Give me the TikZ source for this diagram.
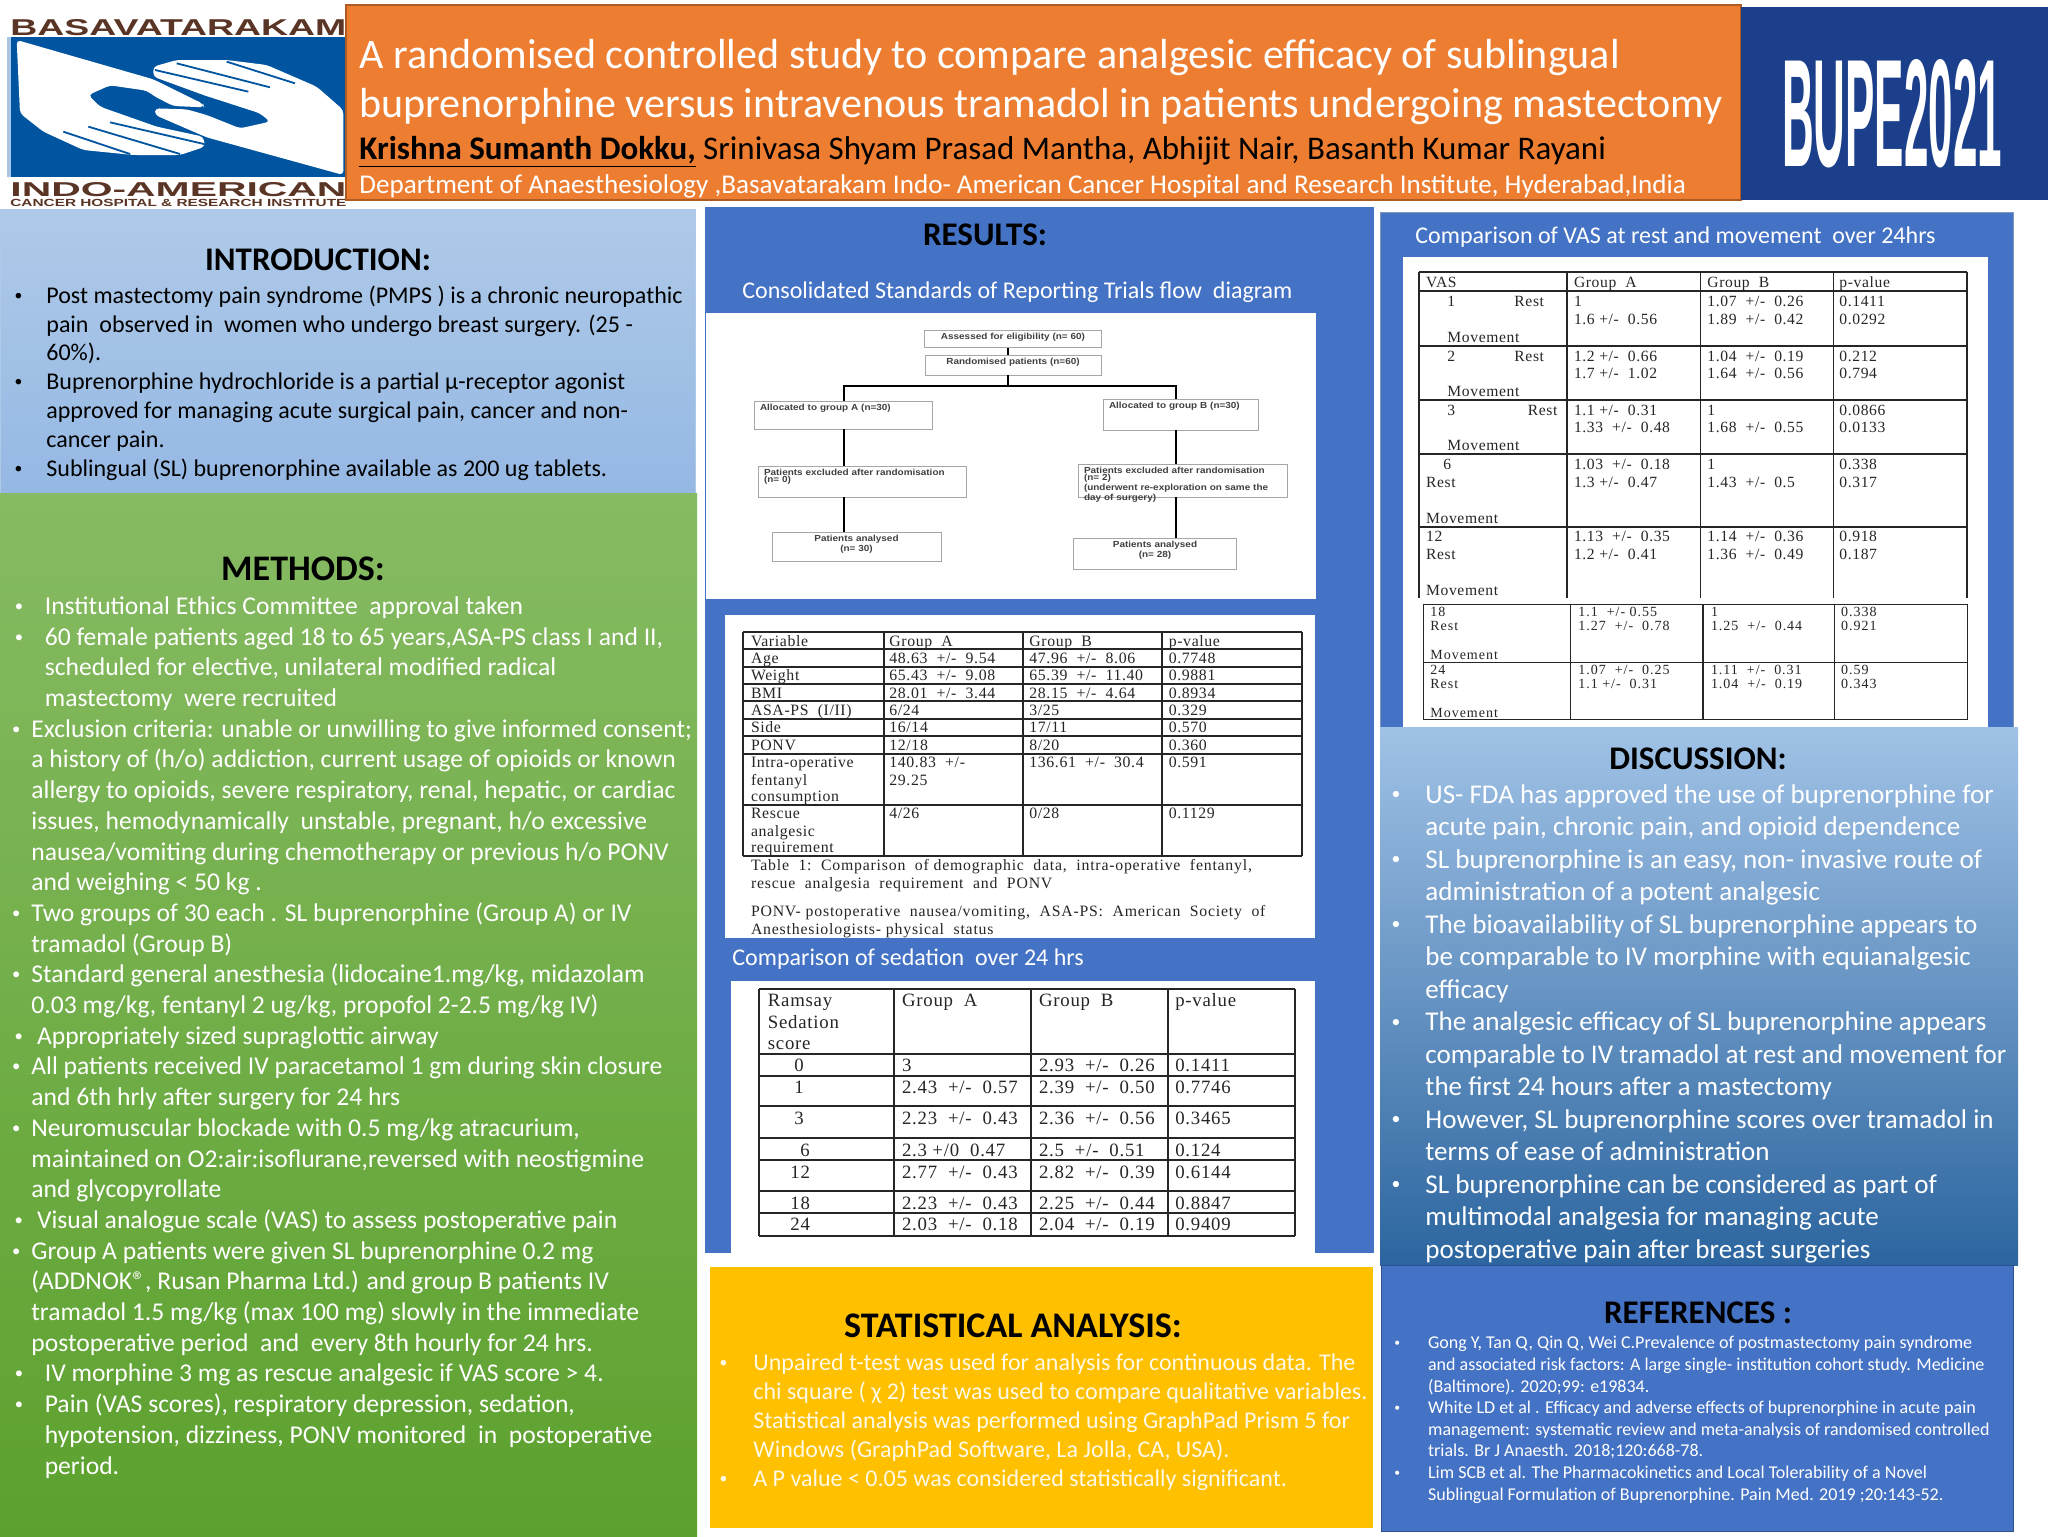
\documentclass[tikz,border=0pt]{standalone}
\usepackage{fontspec}
\usepackage{graphicx}
\usepackage{tikz}
\setmainfont{Carlito}
\newfontfamily\tabfont[LetterSpace=4]{Liberation Serif}
\newfontfamily\tabwide[LetterSpace=7]{Liberation Serif}
\newfontfamily\tabcap[LetterSpace=5]{Liberation Serif}
\newfontfamily\logofont{Liberation Sans}
\newfontfamily\flowfont[FakeStretch=1.13]{Liberation Sans}
\definecolor{orangebar}{HTML}{ED7D31}
\definecolor{orangeedge}{HTML}{AE5A21}
\definecolor{navy}{HTML}{1B3F8B}
\definecolor{panelblue}{HTML}{4472C4}
\definecolor{paneledge}{HTML}{2F528F}
\definecolor{logoblue}{HTML}{0054A0}
\definecolor{logostrip}{HTML}{A9C6E6}
\definecolor{logobrown}{HTML}{5A3424}
\definecolor{amber}{HTML}{FFC000}
\definecolor{introtop}{HTML}{AFCAE9}
\definecolor{introlow}{HTML}{95B8E3}
\definecolor{methtop}{HTML}{87BB63}
\definecolor{methlow}{HTML}{5CA12E}
\definecolor{disctop}{HTML}{A0C2E6}
\definecolor{discmid}{HTML}{5F9BD5}
\definecolor{disclow}{HTML}{2C659F}
\newcommand{\fs}[2]{\fontsize{#1}{#2}\selectfont}
\newcommand{\bu}[1]{\llap{\raisebox{.12em}{\scalebox{.65}{\textbullet}}\hspace{#1}}}
\tikzstyle{heading}=[anchor=base,inner sep=0pt,font=\bfseries\fs{16.5}{19},text=black]
\tikzstyle{bigheading}=[heading,font=\bfseries\fs{18}{21}]
\tikzstyle{caption}=[anchor=base west,inner sep=0pt,font=\fs{12}{14},text=white]
\tikzstyle{bodytext}=[anchor=north west,align=left,inner sep=0pt]
\tikzstyle{flowbox}=[draw=gray!70,line width=.4pt,fill=white,inner xsep=3pt,inner ysep=1pt,
 text height=3.7pt,font=\flowfont\bfseries\fs{4.4}{3.5},text=black!75]
\tikzstyle{flowline}=[line width=1.2pt,black]
\tikzstyle{tline}=[line width=.9pt,black!85]
\tikzstyle{tlinethin}=[line width=.6pt,black!85]
\tikzstyle{tcellstyle}=[anchor=base west,inner sep=0pt,text=black!85]
\tikzstyle{logotext}=[inner sep=0pt,text=logobrown,font=\logofont\bfseries]
% one cell and one row of a table
\newcommand{\tcell}[4]{\node[tcellstyle] (#1) at (#2,#3) {#4};}
\newcommand{\trow}[6]{%
\tcell{#1-a}{\cola}{#2}{#3}\tcell{#1-b}{\colb}{#2}{#4}\tcell{#1-c}{\colc}{#2}{#5}\tcell{#1-d}{\cold}{#2}{#6}}
\begin{document}
\begin{tikzpicture}[x=.5pt,y=-.5pt]
\useasboundingbox (0,0) rectangle (2048,1536);
%header
\fill[white] (0,0) rectangle (2048,1536);
\fill[logostrip] (7,37) rectangle (11,177);
\fill[logoblue] (11,37) rectangle (346,177);
\begin{scope}[x=.16667pt,y=-.16667pt]
\fill[white,rounded corners=2pt] (50,120) -- (460,238) -- (610,312) -- (612,322) -- (520,318) -- (465,290) -- (440,272) -- (330,256) -- (265,285) -- (300,320) -- (470,380) -- (610,410) -- (615,440) -- (540,465) -- (400,465) -- (250,450) -- (130,395) -- (60,340) -- cycle;
\fill[white,rounded corners=2pt] (1030,525) -- (620,412) -- (465,345) -- (465,325) -- (560,328) -- (620,345) -- (720,385) -- (810,365) -- (780,340) -- (610,285) -- (460,230) -- (460,200) -- (530,180) -- (680,180) -- (800,195) -- (950,260) -- (1030,330) -- cycle;
\draw[logoblue,line width=.9pt] (190,395) -- (390,462) (265,380) -- (540,462) (330,367) -- (612,432) (465,210) -- (745,275) (530,190) -- (810,262) (680,185) -- (885,250);
\end{scope}
\node[logotext,anchor=north west] (logotop) at (10,19) {\resizebox{168pt}{8pt}{BASAVATARAKAM}};
\node[logotext,anchor=north west] (logomid) at (10,182) {\resizebox{168pt}{7pt}{INDO-AMERICAN}};
\node[logotext,anchor=north west] (logolow) at (10,199) {\resizebox{168pt}{3.6pt}{CANCER HOSPITAL \& RESEARCH INSTITUTE}};
\draw[fill=orangebar,draw=orangeedge,line width=.8pt] (346,5) rectangle (1741,200);
\node[anchor=base west,inner sep=0pt,text=white,font=\fs{21.03}{25}] (title1) at (359,68.5) {A randomised controlled study to compare analgesic efficacy of sublingual};
\node[anchor=base west,inner sep=0pt,text=white,font=\fs{21.03}{25}] (title2) at (359,118) {buprenorphine versus intravenous tramadol in patients undergoing mastectomy};
\node[anchor=base west,inner sep=0pt,text=black,font=\fs{16.5}{19}] (authors) at (359,159) {\underline{\textbf{Krishna Sumanth Dokku,}} Srinivasa Shyam Prasad Mantha, Abhijit Nair, Basanth Kumar Rayani};
\node[anchor=base west,inner sep=0pt,text=white,font=\fs{13.55}{15}] (dept) at (359,193) {Department of Anaesthesiology ,Basavatarakam Indo- American Cancer Hospital and Research Institute, Hyderabad,India};
\fill[navy] (1741,7) rectangle (2048,200);
\node[inner sep=0pt,text=white,font=\logofont\bfseries] (bupe) at (1892,113.5) {\resizebox{110pt}{53.5pt}{BUPE2021}};
%introduction
\draw[draw=introtop,top color=introtop,bottom color=introlow] (0,209) rectangle (695,493);
\node[heading] (introhead) at (318,270.5) {INTRODUCTION:};
\node[bodytext,text=black,font=\fs{12}{14.45}] (introtext) at (46,282.5) {\strut\bu{12pt}Post mastectomy pain syndrome (PMPS ) is a chronic neuropathic\\
pain\ \ observed in\ \ women who undergo breast surgery. (25 -\\
60\%).\\
\bu{12pt}Buprenorphine hydrochloride is a partial µ-receptor agonist\\
approved for managing acute surgical pain, cancer and non-\\
cancer pain.\\
\bu{12pt}Sublingual (SL) buprenorphine available as 200 ug tablets.};
%methods
\shade[top color=methtop,bottom color=methlow] (0,493) rectangle (697,1536);
\node[bigheading] (methodshead) at (303,580.5) {METHODS:};
\node[bodytext,text=white,font=\fs{12.8}{15.35}] (methodstext) at (31,592.5) {\strut\hspace*{6.7pt}\bu{10.8pt}Institutional Ethics Committee\ \ approval taken\\
\hspace*{6.7pt}\bu{10.8pt}60 female patients aged 18 to 65 years,ASA-PS class I and II,\\
\hspace*{6.7pt}scheduled for elective, unilateral modified radical\\
\hspace*{6.7pt}mastectomy\ \ were recruited\\
\bu{5.5pt}Exclusion criteria: unable or unwilling to give informed consent;\\
a history of (h/o) addiction, current usage of opioids or known\\
allergy to opioids, severe respiratory, renal, hepatic, or cardiac\\
issues, hemodynamically\ \ unstable, pregnant, h/o excessive\\
nausea/vomiting during chemotherapy or previous h/o PONV\\
and weighing < 50 kg .\\
\bu{5.5pt}Two groups of 30 each . SL buprenorphine (Group A) or IV\\
tramadol (Group B)\\
\bu{5.5pt}Standard general anesthesia (lidocaine1.mg/kg, midazolam\\
0.03 mg/kg, fentanyl 2 ug/kg, propofol 2-2.5 mg/kg IV)\\
\hspace*{2.8pt}\bu{7pt}Appropriately sized supraglottic airway\\
\bu{5.5pt}All patients received IV paracetamol 1 gm during skin closure\\
and 6th hrly after surgery for 24 hrs\\
\bu{5.5pt}Neuromuscular blockade with 0.5 mg/kg atracurium,\\
maintained on O2:air:isoflurane,reversed with neostigmine\\
and glycopyrollate\\
\hspace*{2.8pt}\bu{7pt}Visual analogue scale (VAS) to assess postoperative pain\\
\bu{5.5pt}Group A patients were given SL buprenorphine 0.2 mg\\
(ADDNOK®, Rusan Pharma Ltd.) and group B patients IV\\
tramadol 1.5 mg/kg (max 100 mg) slowly in the immediate\\
postoperative period\ \ and\ \ every 8th hourly for 24 hrs.\\
\hspace*{6.7pt}\bu{10.8pt}IV morphine 3 mg as rescue analgesic if VAS score > 4.\\
\hspace*{6.7pt}\bu{10.8pt}Pain (VAS scores), respiratory depression, sedation,\\
\hspace*{6.7pt}hypotension, dizziness, PONV monitored\ \ in\ \ postoperative\\
\hspace*{6.7pt}period.};
%results
\fill[panelblue] (705,207) rectangle (1374,1253);
\node[heading] (resultshead) at (985,245.5) {RESULTS:};
\node[caption] (flowcaption) at (742,298) {Consolidated Standards of Reporting Trials flow\ \ diagram};
\fill[white] (706,313) rectangle (1316,599);
\node[flowbox,text width=82.75pt,text depth=3.15pt,align=center] (assess) at (1013,339) {Assessed for eligibility (n= 60)};
\node[flowbox,text width=82pt,text depth=4.3pt,align=center] (random) at (1013,365) {Randomised patients (n=60)};
\node[flowbox,text width=83pt,text depth=8.3pt,align=left] (alloca) at (843,415) {Allocated to group A (n=30)};
\node[flowbox,text width=71.5pt,text depth=9.8pt,align=left] (allocb) at (1180.5,414.5) {Allocated to group B (n=30)};
\node[flowbox,text width=98pt,text depth=9.8pt,align=left] (excla) at (862,481.5) {Patients excluded after randomisation\\(n= 0)};
\node[flowbox,text width=98.5pt,text depth=10.8pt,align=left] (exclb) at (1182.5,480.5) {Patients excluded after randomisation\\(n= 2)\\(underwent re-exploration on same the\\day of surgery)};
\node[flowbox,text width=78.5pt,text depth=8.8pt,align=center] (analysa) at (856.5,546.5) {Patients analysed\\(n= 30)};
\node[flowbox,text width=75.75pt,text depth=9.8pt,align=center] (analysb) at (1155,553.5) {Patients analysed\\(n= 28)};
\coordinate (hub) at (1008,386);
\coordinate (stema) at (843.7,386);
\coordinate (stemb) at (1176,386);
\draw[flowline] (assess.south -| hub) -- (random.north -| hub);
\draw[flowline] (random.south -| hub) -- (hub);
\draw[flowline] (alloca.north -| stema) -- (stema) -- (stemb) -- (allocb.north -| stemb);
\draw[flowline] (alloca.south -| stema) -- (excla.north -| stema);
\draw[flowline] (excla.south -| stema) -- (analysa.north -| stema);
\draw[flowline] (allocb.south -| stemb) -- (exclb.north -| stemb);
\draw[flowline] (exclb.south -| stemb) -- (analysb.north -| stemb);
%table 1
\fill[white] (724.5,615) rectangle (1315,938);
\foreach \xx in {743.3,883.6,1022.6,1162,1301.8} \draw[tline] (\xx,632) -- (\xx,856);
\foreach \yy in {632,649.3,666.7,684,701.3,718.7,736,754,804.7,856} \draw[tline] (743.3,\yy) -- (1301.8,\yy);
\def\cola{750.6}\def\colb{889}\def\colc{1029}\def\cold{1168.4}
\begin{scope}[every node/.append style={font=\tabfont\fs{7.9}{9}}]
\trow{var}{646}{Variable}{Group\ \ A}{Group\ \ B}{p-value}
\trow{age}{663.3}{Age}{48.63\ \ +/-\ \ 9.54}{47.96\ \ +/-\ \ 8.06}{0.7748}
\trow{wgt}{680.7}{Weight}{65.43\ \ +/-\ \ 9.08}{65.39\ \ +/-\ \ 11.40}{0.9881}
\trow{bmi}{698}{BMI}{28.01\ \ +/-\ \ 3.44}{28.15\ \ +/-\ \ 4.64}{0.8934}
\trow{asa}{715.3}{ASA-PS\ \ (I/II)}{6/24}{3/25}{0.329}
\trow{sid}{732.7}{Side}{16/14}{17/11}{0.570}
\trow{pon}{750}{PONV}{12/18}{8/20}{0.360}
\trow{fen}{767.7}{Intra-operative}{140.83\ \ +/-}{136.61\ \ +/-\ \ 30.4}{0.591}
\tcell{fen-a2}{\cola}{785}{fentanyl}
\tcell{fen-b2}{\colb}{785}{29.25}
\tcell{fen-a3}{\cola}{801.7}{consumption}
\trow{res}{818.3}{Rescue}{4/26}{0/28}{0.1129}
\tcell{res-a2}{\cola}{836}{analgesic}
\tcell{res-a3}{\cola}{852.7}{requirement}
\end{scope}
\begin{scope}[every node/.append style={font=\tabcap\fs{7.9}{9}}]
\tcell{capa}{\cola}{870.7}{Table\ \ 1:\ \ Comparison\ \ of demographic\ \ data,\ \ intra-operative\ \ fentanyl,}
\tcell{capb}{\cola}{888}{rescue\ \ analgesia\ \ requirement\ \ and\ \ PONV}
\tcell{capc}{\cola}{916}{PONV- postoperative\ \ nausea/vomiting,\ \ ASA-PS:\ \ American\ \ Society\ \ of}
\tcell{capd}{\cola}{934}{Anesthesiologists- physical\ \ status}
\end{scope}
%sedation
\node[caption] (sedcaption) at (732,965.5) {Comparison of sedation\ \ over 24 hrs};
\fill[white] (731,981) rectangle (1315,1253);
\foreach \xx in {759,893.6,1031,1168,1294.6} \draw[tline] (\xx,989.3) -- (\xx,1235.7);
\foreach \yy in {989.3,1054,1075.7,1106.3,1138.3,1160,1191,1213.3,1235.7} \draw[tline] (759,\yy) -- (1294.6,\yy);
\def\cola{767.5}\def\colb{901.6}\def\colc{1038.6}\def\cold{1174.9}
\begin{scope}[every node/.append style={font=\tabfont\fs{9.4}{11}}]
\trow{ram}{1006.7}{Ramsay}{Group\ \ A}{Group\ \ B}{p-value}
\tcell{ram-a2}{\cola}{1028.3}{Sedation}
\tcell{ram-a3}{\cola}{1049.3}{score}
\def\cola{794}
\trow{sa}{1071}{0}{3}{2.93\ \ +/-\ \ 0.26}{0.1411}
\trow{sb}{1093.3}{1}{2.43\ \ +/-\ \ 0.57}{2.39\ \ +/-\ \ 0.50}{0.7746}
\trow{sc}{1124}{3}{2.23\ \ +/-\ \ 0.43}{2.36\ \ +/-\ \ 0.56}{0.3465}
\def\cola{800}
\trow{sd}{1156}{6}{2.3\ +/0\ \ 0.47}{2.5\ \ +/-\ \ 0.51}{0.124}
\def\cola{790}
\trow{se}{1178}{12}{2.77\ \ +/-\ \ 0.43}{2.82\ \ +/-\ \ 0.39}{0.6144}
\trow{sf}{1209.3}{18}{2.23\ \ +/-\ \ 0.43}{2.25\ \ +/-\ \ 0.44}{0.8847}
\trow{sg}{1230.7}{24}{2.03\ \ +/-\ \ 0.18}{2.04\ \ +/-\ \ 0.19}{0.9409}
\end{scope}
%vas
\draw[fill=panelblue,draw=paneledge!60!white,line width=.4pt] (1380,212) rectangle (2013,727);
\node[caption] (vascaption) at (1415,243) {Comparison of VAS at rest and movement\ \ over 24hrs};
\fill[white] (1403,257) rectangle (1988,727);
\foreach \xx in {1419.3,1567.1,1700.5,1833.5,1966.9} \draw[tline] (\xx,272.3) -- (\xx,597.7);
\foreach \yy in {272.3,291,345.7,400,454.3,526.7} \draw[tline] (1419.3,\yy) -- (1966.9,\yy);
\def\cola{1425.7}\def\colb{1573.6}\def\colc{1707}\def\cold{1839}
\begin{scope}[every node/.append style={font=\tabfont\fs{7.8}{9}}]
\trow{vhead}{287.3}{VAS}{Group\ \ A}{Group\ \ B}{p-value}
\tcell{v1-n}{1447}{306.7}{1}
\tcell{v1-r}{1514}{306.7}{Rest}
\tcell{v1-b}{\colb}{306.7}{1}
\tcell{v1-c}{\colc}{306.7}{1.07\ \ +/-\ \ 0.26}
\tcell{v1-d}{\cold}{306.7}{0.1411}
\tcell{v1-b2}{\colb}{324}{1.6\ +/-\ \ 0.56}
\tcell{v1-c2}{\colc}{324}{1.89\ \ +/-\ \ 0.42}
\tcell{v1-d2}{\cold}{324}{0.0292}
\tcell{v1-m}{1447}{342}{Movement}
\tcell{v2-n}{1447}{361}{2}
\tcell{v2-r}{1514}{361}{Rest}
\tcell{v2-b}{\colb}{361}{1.2\ +/-\ \ 0.66}
\tcell{v2-c}{\colc}{361}{1.04\ \ +/-\ \ 0.19}
\tcell{v2-d}{\cold}{361}{0.212}
\tcell{v2-b2}{\colb}{378.3}{1.7\ +/-\ \ 1.02}
\tcell{v2-c2}{\colc}{378.3}{1.64\ \ +/-\ \ 0.56}
\tcell{v2-d2}{\cold}{378.3}{0.794}
\tcell{v2-m}{1447}{396.3}{Movement}
\tcell{v3-n}{1447}{415.3}{3}
\tcell{v3-r}{1527.4}{415.3}{Rest}
\tcell{v3-b}{\colb}{415.3}{1.1\ +/-\ \ 0.31}
\tcell{v3-c}{\colc}{415.3}{1}
\tcell{v3-d}{\cold}{415.3}{0.0866}
\tcell{v3-b2}{\colb}{432.7}{1.33\ \ +/-\ \ 0.48}
\tcell{v3-c2}{\colc}{432.7}{1.68\ \ +/-\ \ 0.55}
\tcell{v3-d2}{\cold}{432.7}{0.0133}
\tcell{v3-m}{1447}{450.7}{Movement}
\tcell{v6-n}{1443}{469.7}{6}
\tcell{v6-b}{\colb}{469.7}{1.03\ \ +/-\ \ 0.18}
\tcell{v6-c}{\colc}{469.7}{1}
\tcell{v6-d}{\cold}{469.7}{0.338}
\trow{v6r}{487.3}{Rest}{1.3\ +/-\ \ 0.47}{1.43\ \ +/-\ \ 0.5}{0.317}
\tcell{v6-m}{\cola}{523.3}{Movement}
\trow{v12}{541.7}{12}{1.13\ \ +/-\ \ 0.35}{1.14\ \ +/-\ \ 0.36}{0.918}
\trow{v12r}{559.3}{Rest}{1.2\ +/-\ \ 0.41}{1.36\ \ +/-\ \ 0.49}{0.187}
\tcell{v12-m}{\cola}{595.3}{Movement}
\end{scope}
\foreach \xx in {1423.3,1570.4,1703,1834.7,1967.7} \draw[tlinethin] (\xx,604.7) -- (\xx,719.7);
\foreach \yy in {604.7,662.3,719.7} \draw[tlinethin] (1423.3,\yy) -- (1967.7,\yy);
\def\cola{1430}\def\colb{1578}\def\colc{1710.6}\def\cold{1840.7}
\begin{scope}[every node/.append style={font=\tabwide\fs{7}{8}}]
\trow{v18}{616.7}{18}{1.1\ \ +/-\ 0.55}{1}{0.338}
\trow{v18r}{630.7}{Rest}{1.27\ \ +/-\ \ 0.78}{1.25\ \ +/-\ \ 0.44}{0.921}
\tcell{v18-m}{\cola}{659.3}{Movement}
\trow{v24}{674}{24}{1.07\ \ +/-\ \ 0.25}{1.11\ \ +/-\ \ 0.31}{0.59}
\trow{v24r}{688.7}{Rest}{1.1\ +/-\ \ 0.31}{1.04\ \ +/-\ \ 0.19}{0.343}
\tcell{v24-m}{\cola}{717.3}{Movement}
\end{scope}
%discussion
\shade[top color=disctop,middle color=discmid,bottom color=disclow] (1380,727) rectangle (2018,1265);
\node[heading] (dischead) at (1698,769.5) {DISCUSSION:};
\node[bodytext,text=white,font=\fs{13.55}{16.25}] (disctext) at (1425,780) {\strut\bu{12.5pt}US- FDA has approved the use of buprenorphine for\\
acute pain, chronic pain, and opioid dependence\\
\bu{12.5pt}SL buprenorphine is an easy, non- invasive route of\\
administration of a potent analgesic\\
\bu{12.5pt}The bioavailability of SL buprenorphine appears to\\
be comparable to IV morphine with equianalgesic\\
efficacy\\
\bu{12.5pt}The analgesic efficacy of SL buprenorphine appears\\
comparable to IV tramadol at rest and movement for\\
the first 24 hours after a mastectomy\\
\bu{12.5pt}However, SL buprenorphine scores over tramadol in\\
terms of ease of administration\\
\bu{12.5pt}SL buprenorphine can be considered as part of\\
multimodal analgesia for managing acute\\
postoperative pain after breast surgeries};
%statistics
\fill[amber] (709.5,1267) rectangle (1373,1528);
\node[bigheading] (stathead) at (1013,1337) {STATISTICAL ANALYSIS:};
\node[bodytext,text=white!90!amber,font=\fs{12}{14.5}] (stattext) at (753,1350) {\strut\bu{13pt}Unpaired t-test was used for analysis for continuous data. The\\
chi square ( χ 2) test was used to compare qualitative variables.\\
Statistical analysis was performed using GraphPad Prism 5 for\\
Windows (GraphPad Software, La Jolla, CA, USA).\\
\bu{13pt}A P value < 0.05 was considered statistically significant.};
%references
\draw[fill=panelblue,draw=paneledge,line width=.5pt] (1381,1265) rectangle (2013,1531);
\node[heading] (refhead) at (1698,1323) {REFERENCES :};
\node[bodytext,text=white,font=\fs{9}{10.83}] (reftext) at (1427.7,1333.1) {\strut\bu{14pt}Gong Y, Tan Q, Qin Q, Wei C.Prevalence of postmastectomy pain syndrome\\
and associated risk factors: A large single- institution cohort study. Medicine\\
(Baltimore). 2020;99: e19834.\\
\bu{14pt}White LD et al . Efficacy and adverse effects of buprenorphine in acute pain\\
management: systematic review and meta-analysis of randomised controlled\\
trials. Br J Anaesth. 2018;120:668-78.\\
\bu{14pt}Lim SCB et al. The Pharmacokinetics and Local Tolerability of a Novel\\
Sublingual Formulation of Buprenorphine. Pain Med. 2019 ;20:143-52.};
\end{tikzpicture}
\end{document}
